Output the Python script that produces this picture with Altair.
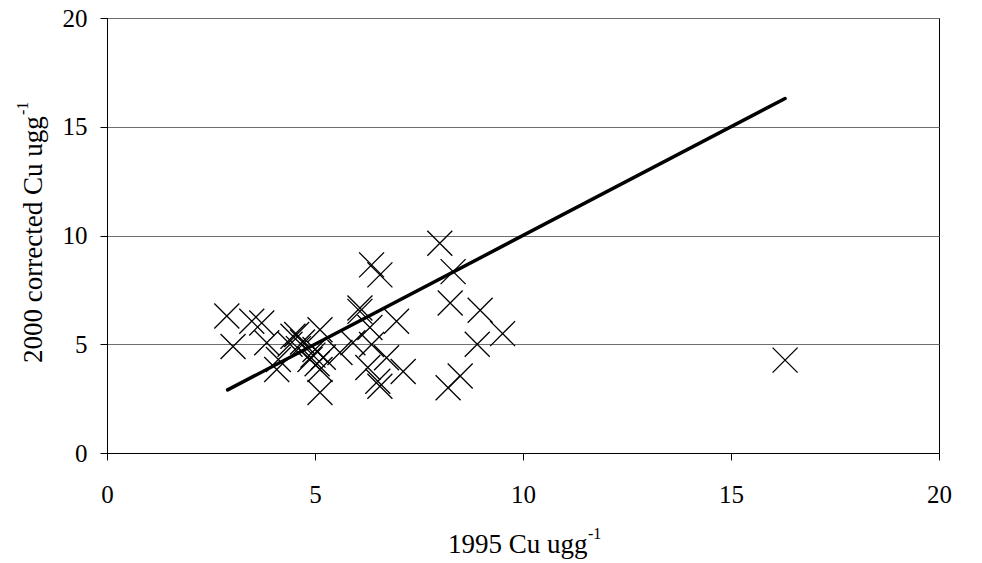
import altair as alt
import pandas as pd

# 1995 vs 2000 corrected Cu (ug g-1)
cu_1995 = [2.88, 3.03, 3.48, 3.72, 3.84, 4.12, 4.08, 4.47, 4.56, 4.40, 4.70, 4.60,
           4.95, 5.00, 4.88, 5.05, 5.20, 5.12, 5.12, 5.12, 5.60, 5.91, 6.08, 6.08,
           6.32, 6.36, 6.36, 6.56, 6.72, 6.27, 6.51, 6.56, 6.96, 7.12, 8.00, 8.32,
           8.25, 8.97, 9.51, 8.90, 8.49, 8.20, 16.30]
cu_2000 = [6.30, 4.90, 6.06, 5.98, 5.07, 4.30, 3.84, 5.37, 5.45, 5.00, 5.10, 4.80,
           4.50, 4.76, 4.30, 4.10, 4.40, 5.67, 3.84, 2.78, 4.62, 5.07, 6.67, 6.51,
           5.77, 4.99, 8.65, 8.19, 4.38, 3.93, 3.30, 3.07, 6.06, 3.75, 9.64, 8.34,
           6.90, 6.56, 5.49, 5.00, 3.54, 3.00, 4.27]

# 1:1 reference line
line_x = [2.9, 16.3]
line_y = [2.9, 16.3]

tick_values = [0, 5, 10, 15, 20]
x_title = ["1995 Cu ugg"]
y_title = ["2000 corrected Cu ugg"]
sup = ["-1"]

FONT = "'Liberation Serif', 'Times New Roman', Times, serif"

pts = pd.DataFrame({"x": cu_1995, "y": cu_2000})
ln = pd.DataFrame({"x": line_x, "y": line_y})

xs = alt.Scale(domain=[0, 20], nice=False, zero=False)
ys = alt.Scale(domain=[0, 20], nice=False, zero=False)

xaxis = alt.Axis(values=tick_values, grid=False, title=None, domainColor="black",
                 tickColor="black", tickSize=7, labelFontSize=25, labelFont=FONT,
                 labelColor="black", labelPadding=42, labelBaseline="alphabetic",
                 labelFlush=False)
yaxis = alt.Axis(values=tick_values, grid=True, gridColor="#6e6e6e", gridWidth=1,
                 title=None, domainColor="black", tickColor="black", tickSize=7,
                 labelFontSize=25, labelFont=FONT, labelColor="black",
                 labelPadding=13, labelFlush=False)

scatter = alt.Chart(pts).mark_point(
    shape="M-1,-1L1,1M-1,1L1,-1", size=625, filled=False, stroke="black",
    strokeWidth=1.3, opacity=1
).encode(
    x=alt.X("x:Q", scale=xs, axis=xaxis),
    y=alt.Y("y:Q", scale=ys, axis=yaxis),
)

line = alt.Chart(ln).mark_line(color="black", strokeWidth=3.5, strokeCap="round").encode(
    x=alt.X("x:Q", scale=xs),
    y=alt.Y("y:Q", scale=ys),
)

def txt(t, x, y, size, angle=0):
    return alt.Chart(pd.DataFrame({"t": t})).mark_text(
        font=FONT, fontSize=size, color="black", align="left",
        baseline="alphabetic", angle=angle
    ).encode(x=alt.value(x), y=alt.value(y), text="t:N")

xt = txt(x_title, 341, 535, 27)
xs_sup = txt(sup, 481, 521, 16)
yt = txt(y_title, -65, 345, 27, angle=270)
ys_sup = txt(sup, -79, 97, 16, angle=270)

chart = alt.layer(scatter, line, xt, xs_sup, yt, ys_sup).properties(
    width=832, height=435,
    padding={"left": 107, "top": 18, "right": 43, "bottom": 110},
    autosize=alt.AutoSizeParams(type="none"),
    background="white",
).configure_view(stroke="black", strokeWidth=1)

chart.save("out.html", embed_options={"renderer": "svg", "actions": False})
